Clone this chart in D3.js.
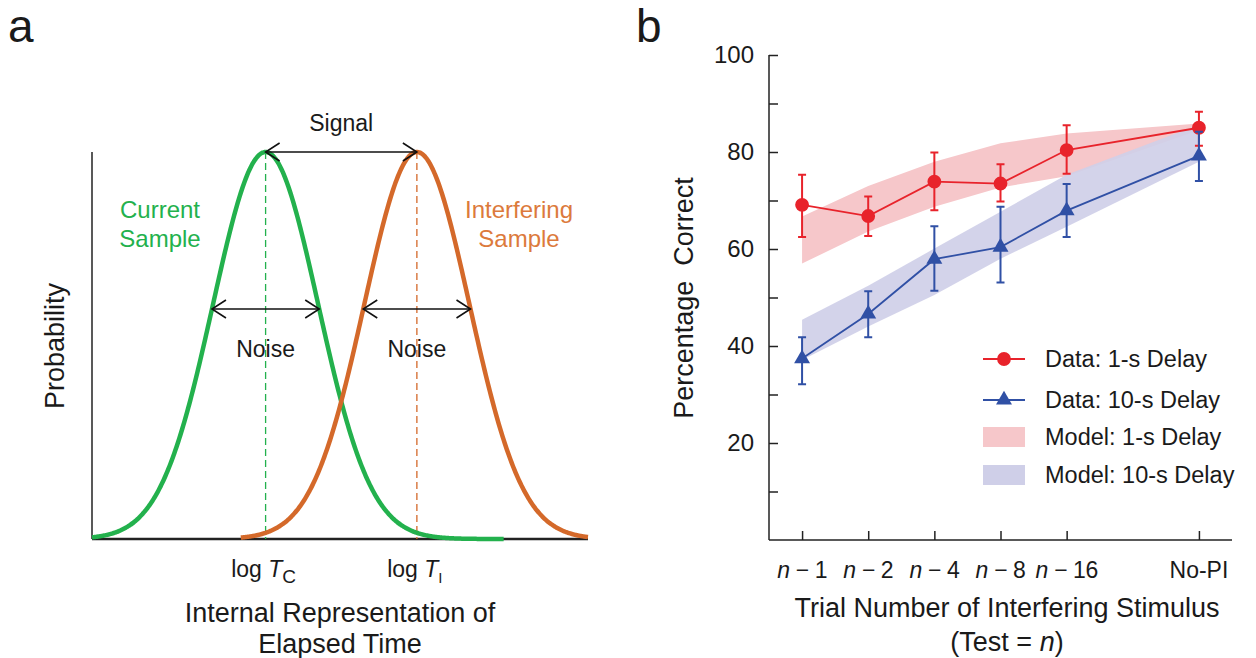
<!DOCTYPE html>
<html lang="en">
<head>
<meta charset="utf-8">
<script src="https://d3js.org/d3.v7.min.js"></script>
<style type="text/css">
body {
	margin: 0;
	background: white;
	font-family: "Liberation Sans", Arial, sans-serif;
}
text {
	font-family: "Liberation Sans", Arial, sans-serif;
	fill: #1a1a1a;
}
</style>
</head>
<body>
<svg id="chart" width="1256" height="658"></svg>

<script type="text/javascript">

// ---- panel a: the two sampling distributions ----
const distNames = ["Current Sample", "Interfering Sample"];
const distMeans = [3.5, 6.55];        // log T_C, log T_I (arbitrary units)
const distSigma = [1.06, 1.06];
const distRange = [[0, 8.3], [3.0, 10]]; // where each curve is drawn
const distTicks = ["C", "I"];          // subscripts of the x tick labels

// ---- panel b: percentage correct ----
const categories = ["n − 1", "n − 2", "n − 4", "n − 8", "n − 16", "No-PI"];
const catPos = [0, 1, 2, 3, 4, 6];
const data1s = [69.1, 66.8, 73.9, 73.5, 80.4, 85.0];
const err1sLo = [62.5, 62.7, 68.0, 69.8, 75.5, 81.3];
const err1sHi = [75.3, 70.8, 79.9, 77.5, 85.5, 88.3];
const data10s = [37.4, 46.6, 57.9, 60.4, 67.9, 79.2];
const err10sLo = [32.1, 41.8, 51.4, 53.1, 62.5, 74.0];
const err10sHi = [41.8, 51.3, 64.7, 68.7, 73.4, 84.2];
const model1sLo = [57.0, 63.6, 68.7, 72.7, 75.0, 84.5];
const model1sHi = [66.7, 73.0, 78.0, 81.8, 83.8, 85.9];
const model10sLo = [37.1, 44.0, 50.5, 58.0, 64.6, 78.0];
const model10sHi = [45.4, 52.4, 60.1, 67.7, 75.3, 85.6];
const yTicks = [20, 40, 60, 80, 100];
const legendLabels = ["Data: 1-s Delay", "Data: 10-s Delay", "Model: 1-s Delay", "Model: 10-s Delay"];

const green = "#23b14d", orange = "#d4692a", orangeText = "#dc7a3c";
const red = "#e8232b", blue = "#3050a5";
const pink = "#f6c7ca", lav = "#cfcfe8";

var svg = d3.select("#chart");

// ================= panel a =================
var xA = d3.scaleLinear().domain([0, 10]).range([92, 588]);
var yA = d3.scaleLinear().domain([0, 1]).range([539, 152]);
var gA = svg.append("g");

gA.append("text").attr("x", 8).attr("y", 42).style("font-size", "46px").text("a");

// axes
gA.append("line").attr("x1", xA(0)).attr("x2", xA(0)).attr("y1", yA(1)).attr("y2", yA(0))
	.style("stroke", "#222").style("stroke-width", 1.5);
gA.append("line").attr("x1", xA(0)).attr("x2", xA(10)).attr("y1", yA(0)).attr("y2", yA(0))
	.style("stroke", "#222").style("stroke-width", 2.5);

var colorsA = [green, orange];
var lineA = d3.line().x(d => xA(d[0])).y(d => yA(d[1])).curve(d3.curveBasis);

// dashed markers at the means
distMeans.forEach(function(m, i) {
	gA.append("line").attr("x1", xA(m)).attr("x2", xA(m)).attr("y1", yA(1)).attr("y2", yA(0))
		.style("stroke", colorsA[i]).style("stroke-width", 1.3).style("stroke-dasharray", "7,4");
});

// gaussian curves
distMeans.forEach(function(m, i) {
	var pts = d3.range(distRange[i][0], distRange[i][1] + 0.001, 0.02).map(function(x) {
		var z = (x - m) / distSigma[i];
		return [x, Math.exp(-z * z / 2)];
	});
	gA.append("path").attr("d", lineA(pts)).style("fill", "none")
		.style("stroke", colorsA[i]).style("stroke-width", 4.5);
});

function arrow(g, x1, x2, y) {
	g.append("line").attr("x1", x1).attr("x2", x2).attr("y1", y).attr("y2", y)
		.style("stroke", "#111").style("stroke-width", 1.6);
	g.append("path").attr("d", "M" + (x1 + 14) + "," + (y - 9) + "L" + x1 + "," + y + "L" + (x1 + 14) + "," + (y + 9))
		.style("fill", "none").style("stroke", "#111").style("stroke-width", 1.6);
	g.append("path").attr("d", "M" + (x2 - 14) + "," + (y - 9) + "L" + x2 + "," + y + "L" + (x2 - 14) + "," + (y + 9))
		.style("fill", "none").style("stroke", "#111").style("stroke-width", 1.6);
}

// signal arrow between the peaks
arrow(gA, xA(distMeans[0]), xA(distMeans[1]), yA(1));
gA.append("text").attr("x", (xA(distMeans[0]) + xA(distMeans[1])) / 2).attr("y", 131)
	.attr("text-anchor", "middle").style("font-size", "23px").text("Signal");

// noise arrows at one sigma
var noiseY = yA(Math.exp(-0.5 * 1.02 * 1.02));
distMeans.forEach(function(m, i) {
	arrow(gA, xA(m - distSigma[i] * 1.02), xA(m + distSigma[i] * 1.02), noiseY);
	gA.append("text").attr("x", xA(m)).attr("y", 357).attr("text-anchor", "middle")
		.style("font-size", "23px").text("Noise");
});

// curve names
var nameX = [160, 519];
distNames.forEach(function(n, i) {
	var t = gA.append("text").attr("x", nameX[i]).attr("y", 218).attr("text-anchor", "middle")
		.style("font-size", "24px").style("fill", i ? orangeText : green);
	var w = n.split(" ");
	t.append("tspan").attr("x", nameX[i]).attr("dy", 0).text(w[0]);
	t.append("tspan").attr("x", nameX[i]).attr("dy", 29).text(w[1]);
});

// x tick labels
distMeans.forEach(function(m, i) {
	var t = gA.append("text").attr("x", xA(m) - 2).attr("y", 577).attr("text-anchor", "middle")
		.style("font-size", "23px");
	t.append("tspan").text("log ");
	t.append("tspan").style("font-style", "italic").text("T");
	t.append("tspan").attr("dy", 6).style("font-size", i ? "15px" : "19px").text(distTicks[i]);
});

gA.append("text").attr("x", 340).attr("y", 622).attr("text-anchor", "middle")
	.style("font-size", "27px").text("Internal Representation of");
gA.append("text").attr("x", 340).attr("y", 653).attr("text-anchor", "middle")
	.style("font-size", "27px").text("Elapsed Time");
gA.append("text").attr("transform", "translate(64,346) rotate(-90)").attr("text-anchor", "middle")
	.style("font-size", "27px").text("Probability");

// ================= panel b =================
var x = d3.scaleLinear().domain([-0.5, 6.5]).range([769, 1232]);
var y = d3.scaleLinear().domain([0, 100]).range([540, 55]);
var gB = svg.append("g");

gB.append("text").attr("x", 636).attr("y", 42).style("font-size", "46px").text("b");

// y axis, ticks pointing inward
var yAxis = d3.axisRight(y).tickValues(d3.range(10, 101, 10)).tickSize(9).tickFormat("");
var gy = gB.append("g").attr("transform", "translate(" + x(-0.5) + ",0)").call(yAxis);
gy.select(".domain").attr("d", "M0," + y(100) + "V" + y(0)).style("stroke", "#222").style("stroke-width", 1.5);
gy.selectAll(".tick line").style("stroke", "#222").style("stroke-width", 1.5);
gB.selectAll(".ylab").data(yTicks).join("text").attr("class", "ylab")
	.attr("x", 754).attr("y", d => y(d) + 8).attr("text-anchor", "end")
	.style("font-size", "24px").text(d => d);

// x axis, ticks pointing inward
var xAxis = d3.axisTop(x).tickValues(catPos).tickSize(9).tickFormat("");
var gx = gB.append("g").attr("transform", "translate(0," + y(0) + ")").call(xAxis);
gx.select(".domain").attr("d", "M" + x(-0.5) + ",0H" + x(6.5)).style("stroke", "#222").style("stroke-width", 1.5);
gx.selectAll(".tick line").style("stroke", "#222").style("stroke-width", 1.5);

categories.forEach(function(c, i) {
	var t = gB.append("text").attr("x", x(catPos[i])).attr("y", 578).attr("text-anchor", "middle")
		.style("font-size", "23px");
	if (c.charAt(0) === "n") {
		t.append("tspan").style("font-style", "italic").text("n");
		t.append("tspan").style("letter-spacing", "-0.5px").text(c.slice(1));
	} else {
		t.text(c);
	}
});

// model bands
function band(lo, hi) {
	return d3.area().x((d, i) => x(catPos[i])).y0((d, i) => y(lo[i])).y1((d, i) => y(hi[i]))(lo);
}
gB.append("path").attr("d", band(model1sLo, model1sHi)).style("fill", pink);
gB.append("path").attr("d", band(model10sLo, model10sHi)).style("fill", lav).style("fill-opacity", 0.92);

// data series
var series = [
	{ vals: data1s, lo: err1sLo, hi: err1sHi, color: red, sym: d3.symbolCircle, size: 150 },
	{ vals: data10s, lo: err10sLo, hi: err10sHi, color: blue, sym: d3.symbolTriangle, size: 110 }
];
var line = d3.line().x((d, i) => x(catPos[i])).y(d => y(d));

series.forEach(function(s) {
	var g = gB.append("g");
	g.append("path").attr("d", line(s.vals)).style("fill", "none")
		.style("stroke", s.color).style("stroke-width", 1.8);
	g.selectAll(".err").data(s.vals).join("path").attr("class", "err")
		.attr("d", function(d, i) {
			var cx = x(catPos[i]), a = y(s.hi[i]), b = y(s.lo[i]);
			return "M" + cx + "," + a + "V" + b + "M" + (cx - 4) + "," + a + "H" + (cx + 4) + "M" + (cx - 4) + "," + b + "H" + (cx + 4);
		})
		.style("fill", "none").style("stroke", s.color).style("stroke-width", 2);
	g.selectAll(".mk").data(s.vals).join("path").attr("class", "mk")
		.attr("transform", (d, i) => "translate(" + x(catPos[i]) + "," + y(d) + ")")
		.attr("d", d3.symbol().type(s.sym).size(s.size)())
		.style("fill", s.color);
});

// legend
var leg = gB.append("g");
var legY = [359, 400, 437, 475];
legendLabels.forEach(function(l, i) {
	if (i < 2) {
		var s = series[i];
		leg.append("line").attr("x1", 983).attr("x2", 1025).attr("y1", legY[i]).attr("y2", legY[i])
			.style("stroke", s.color).style("stroke-width", 1.8);
		leg.append("path").attr("transform", "translate(1004," + legY[i] + ")")
			.attr("d", d3.symbol().type(s.sym).size(s.size)()).style("fill", s.color);
	} else {
		leg.append("rect").attr("x", 983).attr("y", legY[i] - 10).attr("width", 42).attr("height", 20)
			.style("fill", i === 2 ? pink : lav);
	}
	leg.append("text").attr("x", 1045).attr("y", legY[i] + 8).style("font-size", "23.5px").text(l);
});

// axis titles
gB.append("text").attr("transform", "translate(693,298) rotate(-90)").attr("text-anchor", "middle")
	.style("font-size", "27px").attr("xml:space", "preserve").text("Percentage  Correct");
gB.append("text").attr("x", 1007).attr("y", 617).attr("text-anchor", "middle")
	.style("font-size", "27px").text("Trial Number of Interfering Stimulus");
var tt = gB.append("text").attr("x", 1007).attr("y", 651).attr("text-anchor", "middle").style("font-size", "27px");
tt.append("tspan").text("(Test = ");
tt.append("tspan").style("font-style", "italic").text("n");
tt.append("tspan").text(")");

</script>
</body>
</html>
